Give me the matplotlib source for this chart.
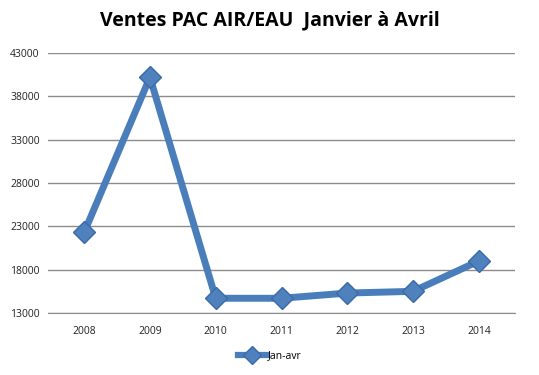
import matplotlib
matplotlib.use('Agg')
import matplotlib.pyplot as plt
from matplotlib.lines import Line2D

# data
years = ['2008', '2009', '2010', '2011', '2012', '2013', '2014']
ventes = [22300, 40200, 14700, 14700, 15300, 15500, 19000]
y_ticks = [13000, 18000, 23000, 28000, 33000, 38000, 43000]

plt.rcParams['font.family'] = ['Open Sans', 'DejaVu Sans']

fig = plt.figure(figsize=(5.39, 3.75), dpi=100)
ax = fig.add_axes([48 / 539, 1 - 313 / 375, 467 / 539, 260 / 375])

blue = '#4a7ebb'
x = range(len(years))
ax.plot(x, ventes, color=blue, lw=5, solid_joinstyle='miter',
        marker='D', ms=11, mfc='#4f81bd', mec='#3a6aa8', mew=1, zorder=3)

ax.set_xlim(-0.55, len(years) - 0.45)
ax.set_ylim(y_ticks[0], y_ticks[-1])
ax.set_yticks(y_ticks)
ax.set_yticklabels([str(v) for v in y_ticks])
ax.set_xticks(list(x))
ax.set_xticklabels(years)
ax.yaxis.grid(True, color='#8c8c8c', lw=1)
ax.set_axisbelow(True)
for s in ax.spines.values():
    s.set_visible(False)
ax.spines['bottom'].set_visible(True)
ax.spines['bottom'].set_color('#8c8c8c')
ax.tick_params(length=0, labelsize=7.5, colors='#222222')
ax.tick_params(axis='x', pad=9)
ax.tick_params(axis='y', pad=6)

fig.text(0.5, 1 - 20 / 375, 'Ventes PAC AIR/EAU  Janvier à Avril',
         ha='center', va='center', fontsize=14, fontweight='bold')

handle = Line2D([], [], color=blue, lw=4.5, marker='D', ms=9,
                mfc='#4f81bd', mec='#3a6aa8')
fig.legend([handle], ['Jan-avr'], loc='center', bbox_to_anchor=(0.5, 1 - 356 / 375),
           frameon=False, fontsize=7.5, handlelength=2.8, handletextpad=0.1)

fig.savefig('out.png', dpi=100)
